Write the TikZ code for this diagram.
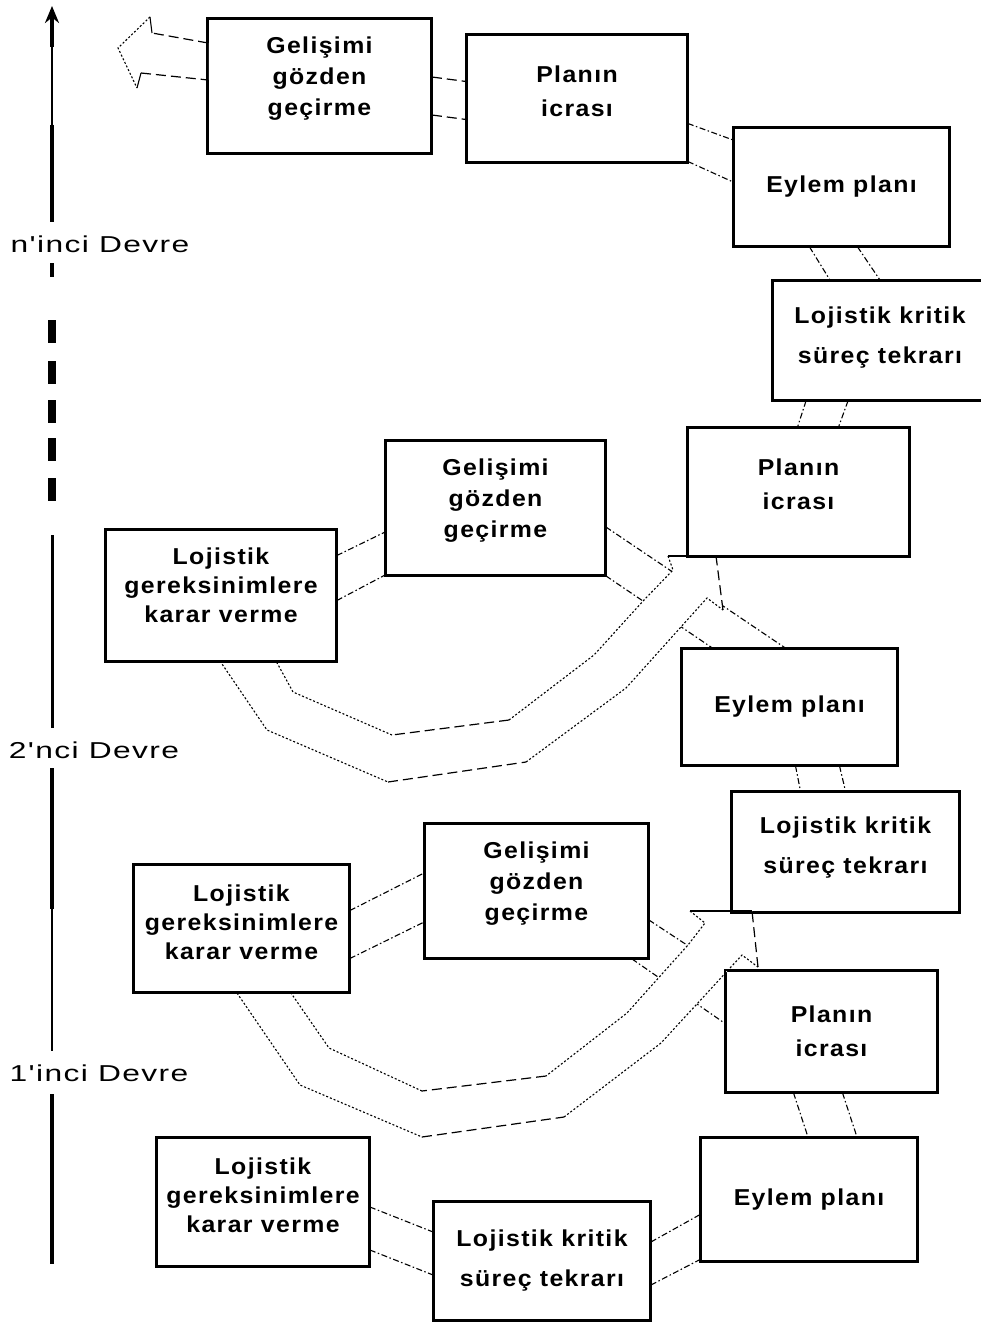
\documentclass[tikz,border=0pt]{standalone}
\usepackage{fontspec}
\setmainfont{Liberation Sans}
\newfontfamily\kutufont[FakeStretch=1.08,LetterSpace=6]{Liberation Sans}
\newfontfamily\devrefont[FakeStretch=1.38,LetterSpace=6,Ligatures=TeXOff]{Liberation Sans}
\usetikzlibrary{arrows.meta}

\tikzset{
  kutu/.style={draw, line width=1.8pt, fill=white, align=center, inner sep=0pt,
    font=\kutufont\bfseries\fontsize{23}{31}\selectfont},
  sik/.style={font=\kutufont\bfseries\fontsize{23}{29}\selectfont},
  derin/.style={text depth=#1},
  bag/.style={line width=1.1pt, dash pattern=on 6pt off 2.5pt on 1.5pt off 2.5pt},
  kenar/.style={line width=1.1pt, dash pattern=on 2pt off 2pt},
  kesik/.style={line width=1.2pt, dash pattern=on 10pt off 5pt},
  devre/.style={font=\devrefont\fontsize{23}{27}\selectfont},
}

\begin{document}
\begin{tikzpicture}[x=1pt,y=-1pt]

\useasboundingbox (0,0) rectangle (981,1324);

% zaman ekseni
\draw[line width=4pt, -{Stealth[length=17pt,width=14pt]}] (52,47) -- (52,6);
\draw[line width=2pt] (52,47) -- (52,125);
\draw[line width=4pt] (52,125) -- (52,222);
\draw[line width=4pt] (52,263) -- (52,277);
\foreach \y in {320,361,400,438,478}
  \draw[line width=8pt] (52,\y) -- (52,\y+23);
\draw[line width=3pt] (52,535) -- (52,728);
\draw[line width=4pt] (52,768) -- (52,909);
\draw[line width=2pt] (52,909) -- (52,1051);
\draw[line width=4pt] (52,1094) -- (52,1264);

\node[devre] (dn) at (100,244) {n'inci Devre};
\node[devre] (d2) at (94,750) {2'nci Devre};
\node[devre] (d1) at (99,1073) {1'inci Devre};

% kutular
\node[kutu, derin=19pt, minimum width=223, minimum height=134] (gelA) at (319.5,86) {Gelişimi\\gözden\\geçirme};
\node[kutu, derin=15pt, minimum width=220, minimum height=127] (plaA) at (577,98.5) {Planın\\[3pt]icrası};
\node[kutu, minimum width=215, minimum height=118] (eylA) at (841.5,187) {Eylem planı};
\node[kutu, derin=11pt, minimum width=214, minimum height=119] (lojA) at (880,340.5) {Lojistik kritik\\[9pt]süreç tekrarı};

\node[kutu, derin=16pt, minimum width=221, minimum height=128] (plaB) at (798.5,492) {Planın\\[3pt]icrası};
\node[kutu, derin=19pt, minimum width=219, minimum height=134] (gelB) at (495.5,508) {Gelişimi\\gözden\\geçirme};
\node[kutu, sik, derin=20pt, minimum width=230, minimum height=131] (gerB) at (221,595.5) {Lojistik\\gereksinimlere\\karar verme};
\node[kutu, minimum width=215, minimum height=116] (eylB) at (789.5,707) {Eylem planı};

\node[kutu, derin=14pt, minimum width=227, minimum height=120] (lojC) at (845.5,852) {Lojistik kritik\\[9pt]süreç tekrarı};
\node[kutu, derin=19pt, minimum width=223, minimum height=134] (gelC) at (536.5,891) {Gelişimi\\gözden\\geçirme};
\node[kutu, sik, derin=12pt, minimum width=215, minimum height=127] (gerC) at (241.5,928.5) {Lojistik\\gereksinimlere\\karar verme};
\node[kutu, minimum width=211, minimum height=121] (plaC) at (831.5,1031.5) {Planın\\[3pt]icrası};

\node[kutu, minimum width=216, minimum height=123] (eylD) at (809,1199.5) {Eylem planı};
\node[kutu, minimum width=216, minimum height=118] (lojD) at (542,1261) {Lojistik kritik\\[9pt]süreç tekrarı};
\node[kutu, sik, derin=14pt, minimum width=212, minimum height=128] (gerD) at (263,1202) {Lojistik\\gereksinimlere\\karar verme};

% kutular arasi baglar
\draw[kesik] ([yshift=9]gelA.east) -- ([yshift=17]plaA.west);
\draw[kesik] ([yshift=-29]gelA.east) -- ([yshift=-21]plaA.west);
\draw[bag] ([yshift=-25]plaA.east) -- ([yshift=47]eylA.west);
\draw[bag] ([yshift=-63]plaA.east) -- ([yshift=5]eylA.west);
\draw[bag] ([xshift=-32]eylA.south) -- ([xshift=-50]lojA.north);
\draw[bag] ([xshift=16]eylA.south) -- (lojA.north);
\draw[bag] ([xshift=-74]lojA.south) -- ([xshift=-1]plaB.north);
\draw[bag] ([xshift=-32]lojA.south) -- ([xshift=40]plaB.north);

\draw[bag] ([yshift=40]gerB.east) -- ([yshift=-24]gelB.west);
\draw[bag] ([yshift=-5]gerB.east) -- ([yshift=-67]gelB.west);
\draw[bag] ([yshift=-19]gelB.east) -- ([xshift=-4]eylB.north);
\draw[bag] (gelB.south east) -- ([xshift=-77]eylB.north);
\draw[bag] ([xshift=6]eylB.south) -- ([xshift=-45]lojC.north);
\draw[bag] ([xshift=50]eylB.south) -- (lojC.north);

\draw[bag] ([yshift=18]gerC.east) -- ([yshift=18]gelC.west);
\draw[bag] ([yshift=-30]gerC.east) -- ([yshift=-31]gelC.west);
\draw[bag] ([yshift=-29]gelC.east) -- (plaC.north west);
\draw[bag] ([xshift=-17]gelC.south east) -- ([yshift=8]plaC.west);
\draw[bag] ([xshift=-38]plaC.south) -- ([xshift=-1]eylD.north);
\draw[bag] ([xshift=11]plaC.south) -- ([xshift=48]eylD.north);

\draw[bag] ([yshift=-5]gerD.east) -- ([yshift=29]lojD.west);
\draw[bag] ([yshift=-48]gerD.east) -- ([yshift=-14]lojD.west);
\draw[bag] ([yshift=19]lojD.east) -- ([yshift=-15]eylD.west);
\draw[bag] ([yshift=-24]lojD.east) -- ([yshift=-60]eylD.west);

% ust soldaki bos ok
\fill[white] (208,43) -- (152,33) -- (150,17) -- (118,48) -- (137,88) -- (141,73) -- (208,80) -- cycle;
\draw[kesik] (208,43) -- (152,33);
\draw[line width=1.1pt] (152,33) -- (150,17);
\draw[kenar] (150,17) -- (118,48) -- (137,88);
\draw[line width=1.1pt] (137,88) -- (141,73);
\draw[kesik] (141,73) -- (208,80);

% 2'nci devre oku
\fill[white] (716,556) -- (668,556) -- (673,570) -- (644,600) -- (594,655) -- (509,720) -- (392,735) -- (293,692) -- (276,661) -- (220,661) -- (267,730) -- (388,782) -- (526,762) -- (626,688) -- (707,598) -- (723,610) -- cycle;
\draw[kenar] (668,556) -- (673,570) -- (644,600) -- (594,655) -- (509,720);
\draw[kesik] (509,720) -- (392,735);
\draw[kenar] (392,735) -- (293,692) -- (276,661);
\draw[kenar] (220,661) -- (267,730) -- (388,782);
\draw[kesik] (388,782) -- (526,762);
\draw[kenar] (526,762) -- (626,688) -- (707,598) -- (723,610);
\draw[kesik] (723,610) -- (716,556);
\draw[line width=1.1pt] (716,556) -- (668,556);

% 1'inci devre oku
\fill[white] (752,911) -- (690,911) -- (705,923) -- (688,945) -- (627,1013) -- (546,1076) -- (422,1091) -- (329,1048) -- (291,993) -- (237,993) -- (300,1085) -- (422,1137) -- (564,1117) -- (661,1043) -- (742,955) -- (758,967) -- cycle;
\draw[kenar] (690,911) -- (705,923) -- (688,945) -- (627,1013) -- (546,1076);
\draw[kesik] (546,1076) -- (422,1091);
\draw[kenar] (422,1091) -- (329,1048) -- (291,993);
\draw[kenar] (237,993) -- (300,1085) -- (422,1137);
\draw[kesik] (422,1137) -- (564,1117);
\draw[kenar] (564,1117) -- (661,1043) -- (742,955) -- (758,967);
\draw[kesik] (758,967) -- (752,911);
\draw[line width=1.1pt] (752,911) -- (690,911);

% kutu cerceveleri en ustte
\foreach \k in {gelA,plaA,eylA,lojA,plaB,gelB,gerB,eylB,lojC,gelC,gerC,plaC,eylD,lojD,gerD}
  \draw[line width=1.8pt] (\k.north west) rectangle (\k.south east);

\end{tikzpicture}
\end{document}
